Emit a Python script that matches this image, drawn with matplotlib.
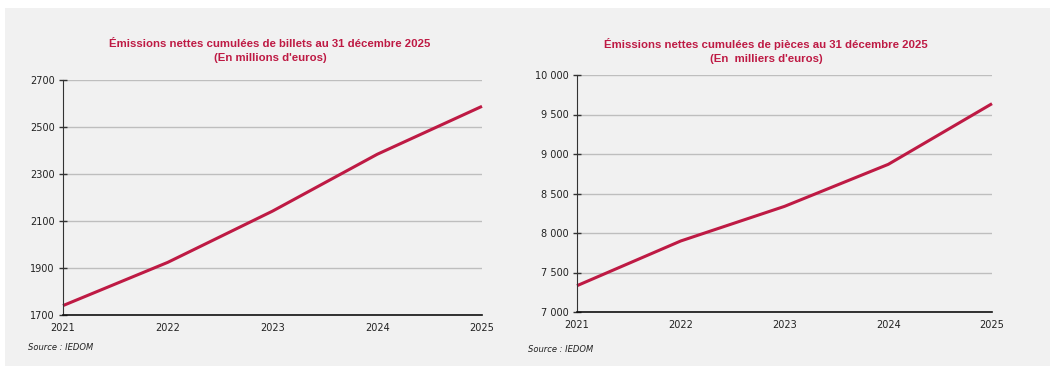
import matplotlib.pyplot as plt
from matplotlib.patches import Rectangle
from matplotlib.ticker import FuncFormatter

plt.rcParams['font.family'] = ['DejaVu Sans']

years = [2021, 2022, 2023, 2024, 2025]
billets = [1740, 1924, 2142, 2384, 2588]
pieces = [7333, 7899, 8337, 8869, 9637]

billets_ticks = [1700, 1900, 2100, 2300, 2500, 2700]
pieces_ticks = [7000, 7500, 8000, 8500, 9000, 9500, 10000]

title_billets = "Émissions nettes cumulées de billets au 31 décembre 2025\n(En millions d'euros)"
title_pieces = "Émissions nettes cumulées de pièces au 31 décembre 2025\n(En  milliers d'euros)"

red = '#BE1A44'
bg = '#F1F1F1'
W, H = 1057, 366

fig = plt.figure(figsize=(W / 100, H / 100), dpi=100)
fig.patch.set_facecolor('white')
fig.patches.append(Rectangle((5 / W, 0), 1045 / W, 1 - 8 / H, transform=fig.transFigure,
                             facecolor=bg, edgecolor='none', zorder=-10))


def space_fmt(v, pos):
    return f'{int(v):,}'.replace(',', ' ')


def panel(rect, values, ticks, fmt=None):
    left, top, right, bottom = rect
    ax = fig.add_axes([left / W, 1 - bottom / H, (right - left) / W, (bottom - top) / H])
    ax.set_facecolor('none')
    ax.plot(years, values, color=red, lw=2.2, solid_capstyle='butt', clip_on=False)
    ax.set_xlim(years[0], years[-1])
    ax.set_ylim(ticks[0], ticks[-1])
    ax.set_yticks(ticks)
    ax.set_xticks(years)
    if fmt:
        ax.yaxis.set_major_formatter(FuncFormatter(fmt))
    ax.grid(axis='y', color='#BEBEBE', lw=1)
    ax.set_axisbelow(True)
    for s in ['top', 'right']:
        ax.spines[s].set_visible(False)
    ax.spines['left'].set_color('#333333')
    ax.spines['bottom'].set_color('#111111')
    ax.spines['bottom'].set_linewidth(1.2)
    ax.tick_params(axis='y', direction='inout', length=6, width=1, labelsize=7, pad=3,
                   colors='#333333', labelcolor='#222222')
    ax.tick_params(axis='x', length=0, labelsize=7, pad=6, labelcolor='#222222')
    return ax


ax1 = panel((63, 80, 482, 315), billets, billets_ticks)
ax2 = panel((577, 75, 992, 312), pieces, pieces_ticks, space_fmt)

fig.text(270 / W, 1 - 51 / H, title_billets, ha='center', va='center', color=red,
         fontsize=8.2, fontweight='bold', linespacing=1.4, family='Liberation Sans')
fig.text(766 / W, 1 - 51 / H, title_pieces, ha='center', va='center', color=red,
         fontsize=8.2, fontweight='bold', linespacing=1.4, family='Liberation Sans')

fig.text(28 / W, 1 - 348 / H, 'Source : IEDOM', fontsize=6, style='italic', va='center', color='#222222')
fig.text(528 / W, 1 - 349 / H, 'Source : IEDOM', fontsize=6, style='italic', va='center', color='#222222')

fig.savefig('out.png', dpi=100, facecolor=fig.get_facecolor())
